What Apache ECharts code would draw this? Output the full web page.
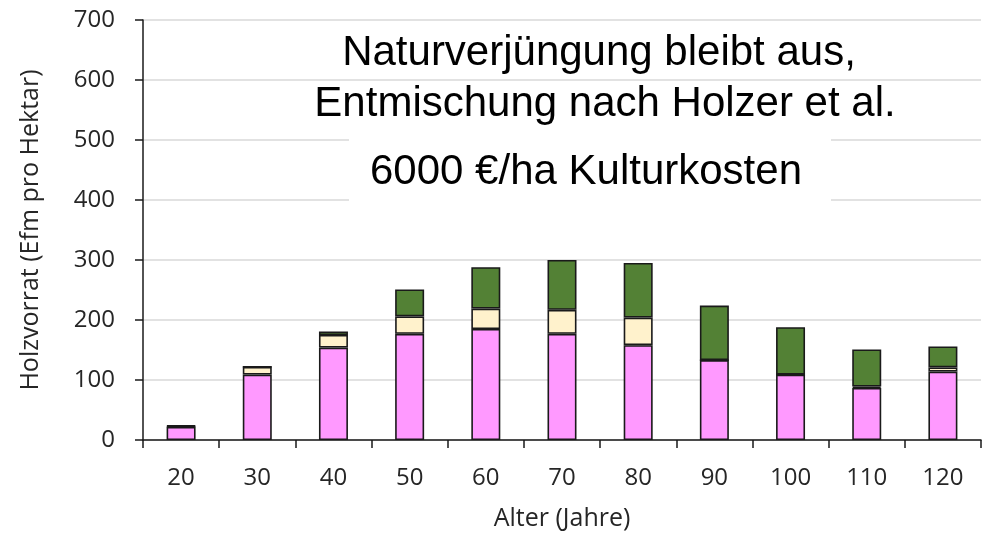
<!DOCTYPE html>
<html>
<head>
<meta charset="utf-8">
<script src="https://cdn.jsdelivr.net/npm/echarts@6/dist/echarts.min.js"></script>
<style>
html,body{margin:0;padding:0;background:#fff;}
#chart{width:982px;height:538px;}
</style>
</head>
<body>
<div id="chart"></div>
<script>
// ---- data ----
const categories = ['20','30','40','50','60','70','80','90','100','110','120'];
const pinkValues  = [22, 109, 154, 177, 185, 177, 158, 133, 109, 87, 114];
const creamValues = [1, 13, 21, 29, 34, 40, 46, 0, 0, 2, 7];
const greenValues = [1, 0, 6, 45, 69, 83, 91, 91, 79, 62, 35];
const yTicks = { min: 0, max: 700, interval: 100 };
const overlayLines = ['Naturverjüngung bleibt aus,', 'Entmischung nach Holzer et al.', '6000 €/ha Kulturkosten'];
const yAxisTitle = 'Holzvorrat (Efm pro Hektar)';
const xAxisTitle = 'Alter (Jahre)';

const axisFont = 'Open Sans';
const textColor = '#262626';
const border = { borderColor: '#1a1a1a', borderWidth: 1.6 };

function mk(name, data, color) {
  return {
    name, type: 'bar', stack: 'total', data,
    barWidth: 29,
    itemStyle: Object.assign({ color }, border),
    emphasis: { disabled: true }
  };
}

const chart = echarts.init(document.getElementById('chart'), null, { renderer: 'canvas' });
chart.setOption({
  animation: false,
  backgroundColor: '#ffffff',
  grid: { left: 143, right: 1, top: 20, bottom: 98, containLabel: false },
  xAxis: {
    type: 'category',
    data: categories,
    name: xAxisTitle,
    nameLocation: 'middle',
    nameGap: 66,
    nameTextStyle: { fontFamily: axisFont, fontSize: 25, color: textColor },
    axisLine: { lineStyle: { color: '#1a1a1a', width: 1.5 } },
    axisTick: { show: true, length: 8, lineStyle: { color: '#1a1a1a', width: 1.5 } },
    axisLabel: { fontFamily: axisFont, fontSize: 24, color: textColor, margin: 26 }
  },
  yAxis: {
    type: 'value',
    min: yTicks.min, max: yTicks.max, interval: yTicks.interval,
    name: yAxisTitle,
    nameLocation: 'middle',
    nameGap: 100,
    nameTextStyle: { fontFamily: axisFont, fontSize: 25, color: textColor },
    axisLine: { show: true, lineStyle: { color: '#1a1a1a', width: 1.5 } },
    axisTick: { show: true, length: 8, lineStyle: { color: '#1a1a1a', width: 1.5 } },
    axisLabel: { fontFamily: axisFont, fontSize: 24, color: textColor, margin: 28 },
    splitLine: { show: true, lineStyle: { color: '#d9d9d9', width: 1.5 } }
  },
  series: [
    mk('Pink', pinkValues, '#ff99ff'),
    mk('Cream', creamValues, '#fff2cc'),
    mk('Green', greenValues, '#538135')
  ],
  graphic: [
    { type: 'rect', shape: { x: 349, y: 126, width: 482, height: 90 }, style: { fill: '#ffffff' }, z: 100 },
    { type: 'text', x: 599, y: 53, z: 101,
      style: { text: overlayLines[0], font: '42px "Liberation Sans", Arial, sans-serif', fill: '#000', align: 'center', verticalAlign: 'middle' } },
    { type: 'text', x: 605, y: 104, z: 101,
      style: { text: overlayLines[1], font: '42px "Liberation Sans", Arial, sans-serif', fill: '#000', align: 'center', verticalAlign: 'middle' } },
    { type: 'text', x: 586, y: 172, z: 101,
      style: { text: overlayLines[2], font: '42px "Liberation Sans", Arial, sans-serif', fill: '#000', align: 'center', verticalAlign: 'middle' } }
  ]
});
</script>
</body>
</html>
